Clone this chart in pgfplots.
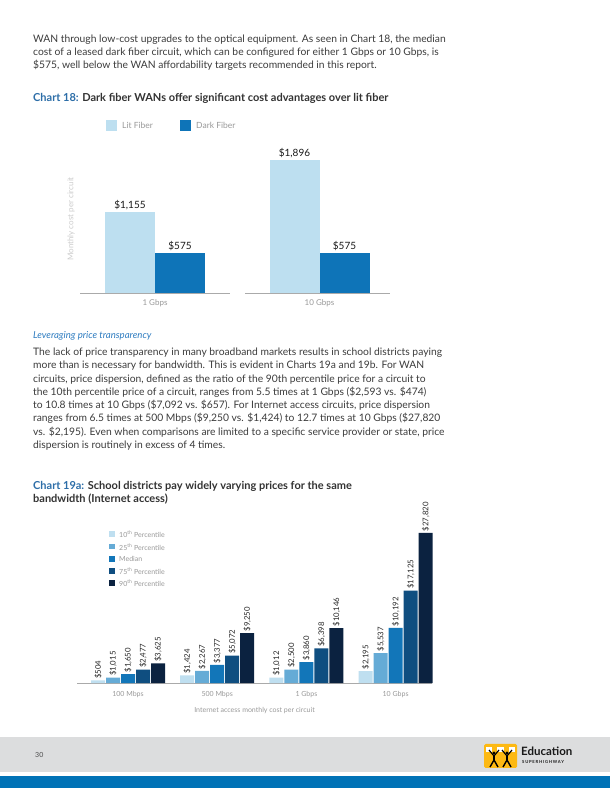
\documentclass[border=0pt]{standalone}
\usepackage{fontspec}
\setmainfont{Lato}
\usepackage{pgfplots}
\pgfplotsset{compat=1.18}

\definecolor{bodytxt}{HTML}{3C3C3C}
\definecolor{headblue}{HTML}{2D6EA8}
\definecolor{headtxt}{HTML}{333333}
\definecolor{italblue}{HTML}{2F7DC1}
\definecolor{axgray}{HTML}{AAAAAA}
\definecolor{lblgray}{HTML}{999999}
\definecolor{litfiber}{HTML}{BDDFF0}
\definecolor{darkfiber}{HTML}{0E74B8}
\definecolor{pten}{HTML}{BFDFF0}
\definecolor{ptwentyfive}{HTML}{65ABD6}
\definecolor{pmedian}{HTML}{1276B9}
\definecolor{pseventyfive}{HTML}{0F4E80}
\definecolor{pninety}{HTML}{0B2240}
\definecolor{footgray}{HTML}{DCDDDE}
\definecolor{footblue}{HTML}{0072B6}
\definecolor{logoyellow}{HTML}{FDB913}

\pgfplotsset{
  pagebar/.style={
    scale only axis, clip=false,
    axis x line=bottom, axis y line=none,
    x axis line style={-, draw=axgray, line width=0.9pt},
    ytick=\empty, major tick length=0pt, xtick=data,
    ymin=0,
    tick label style={text=lblgray},
  },
}

\begin{document}
\begin{tikzpicture}
\useasboundingbox (0pt,0pt) rectangle (610pt,788pt);
\fill[white] (0pt,0pt) rectangle (610pt,788pt);

\begin{scope}[x=1pt,y=1pt]
% ---- running text
\begin{scope}[every node/.style={anchor=base west, inner sep=0pt, text=bodytxt, font=\fontsize{10.3}{12}\selectfont}]
\node at (33,745) {WAN through low-cost upgrades to the optical equipment. As seen in Chart 18, the median};
\node at (33,732) {cost of a leased dark fiber circuit, which can be configured for either 1 Gbps or 10 Gbps, is};
\node at (33,719) {\$575, well below the WAN affordability targets recommended in this report.};

\node[font=\fontsize{9.6}{11}\selectfont\itshape, text=italblue] at (33,449) {Leveraging price transparency};
\node at (33,432.5) {The lack of price transparency in many broadband markets results in school districts paying};
\node at (33,419.2) {more than is necessary for bandwidth. This is evident in Charts 19a and 19b. For WAN};
\node at (33,405.9) {circuits, price dispersion, defined as the ratio of the 90th percentile price for a circuit to};
\node at (33,392.6) {the 10th percentile price of a circuit, ranges from 5.5 times at 1 Gbps (\$2,593 vs. \$474)};
\node at (33,379.3) {to 10.8 times at 10 Gbps (\$7,092 vs. \$657). For Internet access circuits, price dispersion};
\node at (33,366.0) {ranges from 6.5 times at 500 Mbps (\$9,250 vs. \$1,424) to 12.7 times at 10 Gbps (\$27,820};
\node at (33,352.7) {vs. \$2,195). Even when comparisons are limited to a specific service provider or state, price};
\node at (33,339.4) {dispersion is routinely in excess of 4 times.};

\node[font=\fontsize{11}{13}\selectfont\bfseries, text=headtxt] at (33,686.5)
  {\textcolor{headblue}{Chart 18:} Dark fiber WANs offer significant cost advantages over lit fiber};
\node[font=\fontsize{11}{13}\selectfont\bfseries, text=headtxt] at (33,298.5)
  {\textcolor{headblue}{Chart 19a:} School districts pay widely varying prices for the same};
\node[font=\fontsize{11}{13}\selectfont\bfseries, text=headtxt] at (33,285.5)
  {bandwidth (Internet access)};
\end{scope}

% ---- chart 18 legend and y label
\fill[litfiber] (106,657) rectangle (117,668);
\node[anchor=west, font=\fontsize{8.5}{10}\selectfont, text=lblgray, inner sep=0pt] at (122,662.5) {Lit Fiber};
\fill[darkfiber] (180,657) rectangle (191,668);
\node[anchor=west, font=\fontsize{8.5}{10}\selectfont, text=lblgray, inner sep=0pt] at (196,662.5) {Dark Fiber};
\node[rotate=90, font=\fontsize{8}{10}\selectfont, text=black!20] at (71,569) {Monthly cost per circuit};

% ---- chart 19a legend
\begin{scope}[every node/.style={anchor=west, inner sep=0pt, text=lblgray, font=\fontsize{7}{8}\selectfont}]
\fill[pten] (109.3,250.9) rectangle (115,256.6);
\node at (119,253.7) {10\textsuperscript{th} Percentile};
\fill[ptwentyfive] (109.3,238.5) rectangle (115,244.2);
\node at (119,241.3) {25\textsuperscript{th} Percentile};
\fill[pmedian] (109.3,225.9) rectangle (115,231.6);
\node at (119,228.7) {Median};
\fill[pseventyfive] (109.3,213.9) rectangle (115,219.6);
\node at (119,216.7) {75\textsuperscript{th} Percentile};
\fill[pninety] (109.3,201.9) rectangle (115,207.6);
\node at (119,204.7) {90\textsuperscript{th} Percentile};
\end{scope}

% ---- footer
\fill[footgray] (0,16) rectangle (610,51);
\fill[footblue] (0,0) rectangle (610,12);
\node[anchor=west, inner sep=0pt, font=\fontsize{7}{8}\selectfont, text=black!70] at (35,33) {30};
\fill[logoyellow, rounded corners=1.5pt] (484,20) rectangle (517,44);
\fill[white] (486,36) rectangle (492,41);
\fill[white] (497,36) rectangle (504,41);
\fill[white] (509,36) rectangle (515,41);
\foreach \cx in {494,507}{
  \fill[black] (\cx,35) circle (1.6pt);
  \draw[black, line width=1.6pt] (\cx,33) -- (\cx,28);
  \draw[black, line width=1.2pt] (\cx-5,38) -- (\cx,32) -- (\cx+5,38);
  \draw[black, line width=1.4pt] (\cx-4,21) -- (\cx,28) -- (\cx+4,21);
}
\node[anchor=west, inner sep=0pt, font=\fontsize{11.5}{12}\selectfont\bfseries, text=black!90] at (521,37) {Education};
\node[anchor=west, inner sep=0pt, font=\fontsize{4.2}{5}\selectfont\bfseries\addfontfeatures{LetterSpace=18}, text=black!90] at (522,26) {SUPERHIGHWAY};
\end{scope}

% ---- chart 18, 1 Gbps
\begin{axis}[pagebar, at={(80pt,495pt)}, anchor=south west,
  width=150pt, height=140pt, ymax=2000,
  xmin=-1.5, xmax=1.5, xticklabels={1 Gbps},
  ybar=0pt, bar width=50pt,
  tick label style={font=\fontsize{8}{10}\selectfont, yshift=-3pt},
  nodes near coords={\$\pgfmathprintnumber[fixed,precision=0,1000 sep={,},assume math mode=true]{\pgfplotspointmeta}},
  every node near coord/.append style={font=\fontsize{10}{12}\selectfont, text=black!90, inner sep=2pt},
]
\addplot[fill=litfiber, draw=none] coordinates {(0,1155)};
\addplot[fill=darkfiber, draw=none] coordinates {(0,575)};
\end{axis}

% ---- chart 18, 10 Gbps
\begin{axis}[pagebar, at={(245pt,495pt)}, anchor=south west,
  width=145pt, height=140pt, ymax=2000,
  xmin=-1.49, xmax=1.41, xticklabels={10 Gbps},
  ybar=0pt, bar width=50pt,
  tick label style={font=\fontsize{8}{10}\selectfont, yshift=-3pt},
  nodes near coords={\$\pgfmathprintnumber[fixed,precision=0,1000 sep={,},assume math mode=true]{\pgfplotspointmeta}},
  every node near coord/.append style={font=\fontsize{10}{12}\selectfont, text=black!90, inner sep=2pt},
]
\addplot[fill=litfiber, draw=none] coordinates {(0,1896)};
\addplot[fill=darkfiber, draw=none] coordinates {(0,575)};
\end{axis}

% ---- chart 19a
\begin{axis}[pagebar, at={(77pt,105pt)}, anchor=south west,
  width=355pt, height=162pt, ymax=30000,
  xmin=-0.572, xmax=3.408,
  xticklabels={100 Mbps, 500 Mbps, 1 Gbps, 10 Gbps},
  ybar=1pt, bar width=14pt,
  tick label style={font=\fontsize{7}{9}\selectfont, yshift=-5pt},
  xlabel={Internet access monthly cost per circuit},
  xlabel style={font=\fontsize{7}{9}\selectfont, text=lblgray, yshift=-3pt},
  nodes near coords={\$\pgfmathprintnumber[fixed,precision=0,1000 sep={,},assume math mode=true]{\pgfplotspointmeta}},
  every node near coord/.append style={rotate=90, anchor=west, font=\fontsize{7.8}{9}\selectfont, text=black!85, inner sep=1.5pt},
]
\addplot[fill=pten, draw=none] coordinates {(0,504) (1,1424) (2,1012) (3,2195)};
\addplot[fill=ptwentyfive, draw=none] coordinates {(0,1015) (1,2267) (2,2500) (3,5537)};
\addplot[fill=pmedian, draw=none] coordinates {(0,1650) (1,3377) (2,3860) (3,10192)};
\addplot[fill=pseventyfive, draw=none] coordinates {(0,2477) (1,5072) (2,6398) (3,17125)};
\addplot[fill=pninety, draw=none] coordinates {(0,3625) (1,9250) (2,10146) (3,27820)};
\end{axis}
\end{tikzpicture}
\end{document}
